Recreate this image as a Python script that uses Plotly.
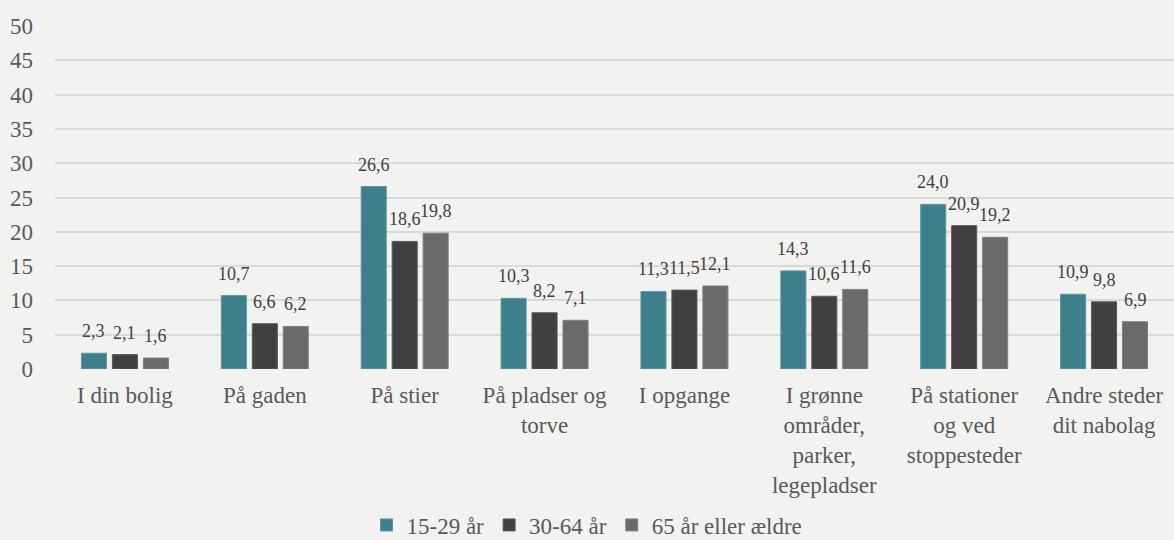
import plotly.graph_objects as go

categories = ["I din bolig", "På gaden", "På stier", "På pladser og<br>torve", "I opgange",
              "I grønne<br>områder,<br>parker,<br>legepladser", "På stationer<br>og ved<br>stoppesteder",
              "Andre steder<br>dit nabolag"]
series_names = ["15-29 år", "30-64 år", "65 år eller ældre"]
v_15_29 = [2.3, 10.7, 26.6, 10.3, 11.3, 14.3, 24.0, 10.9]
v_30_64 = [2.1, 6.6, 18.6, 8.2, 11.5, 10.6, 20.9, 9.8]
v_65 = [1.6, 6.2, 19.8, 7.1, 12.1, 11.6, 19.2, 6.9]
colors = ["#3d808c", "#404040", "#6a6a6a"]
edge = ["#5e97a1", "#5a5a5a", "#808080"]

series = [v_15_29, v_30_64, v_65]
font = "Liberation Serif"

fig = go.Figure()
for name, vals, c, e in zip(series_names, series, colors, edge):
    fig.add_trace(go.Bar(x=categories, y=vals, name=name, marker=dict(color=c, line=dict(color=e, width=1)),
                         hoverinfo="x+y"))

annotations = []
for i, vals in enumerate(series):
    for cat, v in zip(categories, vals):
        annotations.append(dict(x=cat, y=v, text=f"{v:.1f}".replace(".", ","), showarrow=False,
                                xref="x", yref="y", xanchor="center", yanchor="bottom",
                                xshift=(i - 1) * 31, yshift=10,
                                font=dict(family=font, size=18, color="#404040")))

fig.update_layout(
    width=1174, height=540,
    paper_bgcolor="#f2f2f1", plot_bgcolor="#f2f2f1",
    margin=dict(l=55, r=0, t=26, b=171),
    barmode="group", bargap=0.336, bargroupgap=0.19,
    font=dict(family=font, size=23, color="#595959"),
    annotations=annotations,
    legend=dict(orientation="h", x=0.5, xanchor="center", xref="container",
                y=15 / 540, yanchor="middle", yref="container",
                font=dict(family=font, size=23, color="#595959"), itemwidth=30,
                bgcolor="rgba(0,0,0,0)"),
    xaxis=dict(showgrid=False, showline=False, ticks="", automargin=False,
               tickfont=dict(family=font, size=23, color="#595959"),
               ticklabelstandoff=10),
    yaxis=dict(range=[0, 50], dtick=5, showgrid=True, gridcolor="#d9d9d9", gridwidth=1.5, zeroline=False,
               showline=False, ticks="", automargin=False,
               tickfont=dict(family=font, size=23, color="#595959"),
               ticklabelstandoff=21),
)

fig.write_html("out.html", config={"displayModeBar": False},
               post_script="document.body.style.margin='0';document.body.style.background='#f2f2f1';")
